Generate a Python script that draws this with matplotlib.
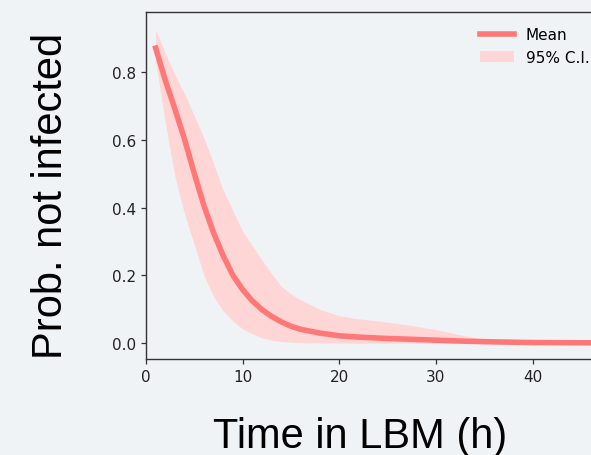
import matplotlib
matplotlib.use("Agg")
import matplotlib.pyplot as plt

# hours in LBM and probability of not being infected
hours = [1, 2, 3, 4, 5, 6, 7, 8, 9, 10, 11, 12, 13, 14, 15, 16, 18, 20,
         22, 25, 28, 30, 33, 36, 40, 47.5]
mean = [0.87, 0.775, 0.69, 0.60, 0.50, 0.405, 0.325, 0.257, 0.20, 0.158,
        0.125, 0.099, 0.079, 0.063, 0.05, 0.041, 0.03, 0.022, 0.018, 0.014,
        0.011, 0.009, 0.006, 0.004, 0.002, 0.001]
ci_upper = [0.924, 0.855, 0.79, 0.735, 0.67, 0.605, 0.53, 0.45, 0.39, 0.33,
            0.288, 0.245, 0.205, 0.168, 0.145, 0.128, 0.10, 0.081, 0.072,
            0.062, 0.05, 0.04, 0.022, 0.006, 0.002, 0.001]
ci_lower = [0.83, 0.65, 0.49, 0.38, 0.29, 0.20, 0.137, 0.095, 0.065, 0.042,
            0.028, 0.016, 0.009, 0.005, 0.003, 0.002, 0.001, 0.001, 0.0,
            0.0, 0.0, 0.0, 0.0, 0.0, 0.0, 0.0]

bg = '#eff3f6'
fig = plt.figure(figsize=(5.91, 4.56), dpi=100, facecolor=bg)
# axes runs past the right edge, like the cropped original
ax = fig.add_axes([146 / 591, 1 - 360 / 456, 459 / 591, 347 / 456])
ax.set_facecolor(bg)

ax.fill_between(hours, ci_lower, ci_upper, color='#ffd6d6', linewidth=0,
                label='95% C.I.')
ax.plot(hours, mean, color='#ff7878', linewidth=4, label='Mean')

ax.set_xlim(0, 47.5)
ax.set_ylim(-0.0465, 0.9765)
ax.set_xticks([0, 10, 20, 30, 40])
ax.set_yticks([0.0, 0.2, 0.4, 0.6, 0.8])
ax.tick_params(labelsize=11, length=3.8, width=0.9, colors='#333333',
               labelcolor='#222222')
for sp in ax.spines.values():
    sp.set_color('#333333')
    sp.set_linewidth(1.0)

handles, labels = ax.get_legend_handles_labels()
ax.legend(handles[::-1], labels[::-1], loc='upper right', frameon=False,
          fontsize=11, handlelength=2.2, borderaxespad=0.6)

fig.text(360 / 591, 1 - 448 / 456, 'Time in LBM (h)', fontsize=30,
         family='Liberation Sans', ha='center', va='baseline')
fig.text(62 / 591, 1 - 196 / 456, 'Prob. not infected', fontsize=30,
         family='Liberation Sans', rotation=90, rotation_mode='anchor',
         ha='center', va='baseline')

fig.savefig('out.png', dpi=100, facecolor=bg)
